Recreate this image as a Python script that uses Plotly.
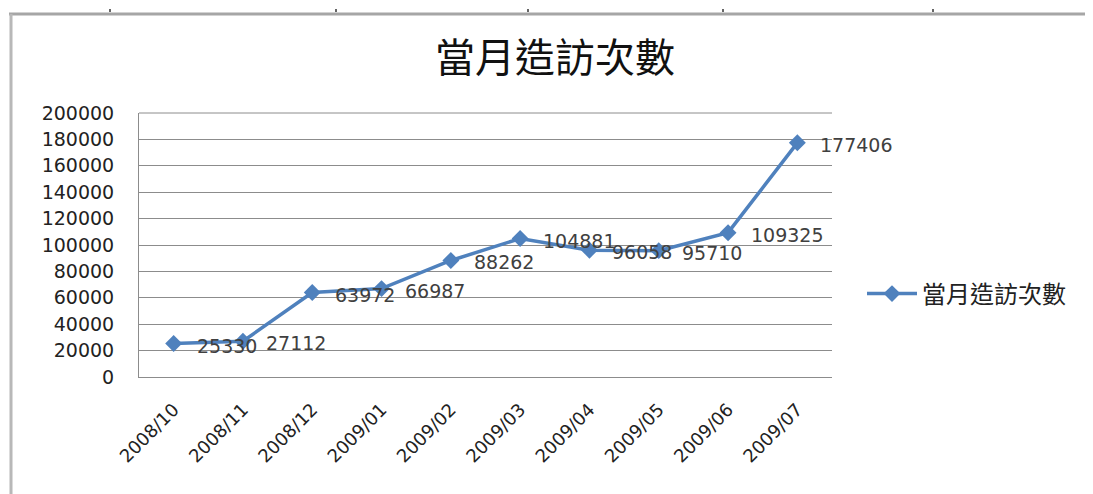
import plotly.graph_objects as go

categories = ["2008/10", "2008/11", "2008/12", "2009/01", "2009/02",
              "2009/03", "2009/04", "2009/05", "2009/06", "2009/07"]
visits = [25330, 27112, 63972, 66987, 88262, 104881, 96058, 95710, 109325, 177406]
series_name = "當月造訪次數"
title_text = "當月造訪次數"

W, H = 1093, 494
OFF = 8  # page body margin
L, R, T, B = 139 - OFF, 832 - OFF, 113 - OFF, 377 - OFF  # plot area in figure pixels


def px_x(px):
    return (px - OFF - L) / (R - L)


def px_y(py):
    return (B - (py - OFF)) / (B - T)


fig = go.Figure()
fig.add_trace(go.Scatter(
    x=categories, y=visits, name=series_name,
    mode="lines+markers",
    line=dict(color="#4F81BD", width=3.5),
    marker=dict(symbol="diamond", size=13, color="#4F81BD"),
    cliponaxis=False,
))

annotations = []
for c, v in zip(categories, visits):
    annotations.append(dict(
        x=c, y=v, xref="x", yref="y", text=str(v), showarrow=False,
        xanchor="left", yanchor="middle", xshift=21, yshift=-2,
        font=dict(family="DejaVu Sans", size=19, color="#404040"),
    ))

shapes = [
    dict(type="line", xref="paper", yref="paper", x0=px_x(9), x1=px_x(1100),
         y0=px_y(14), y1=px_y(14), line=dict(color="#a6a6a6", width=3)),
    dict(type="line", xref="paper", yref="paper", x0=px_x(11), x1=px_x(11),
         y0=px_y(14), y1=px_y(500), line=dict(color="#b8b8b8", width=3)),
    dict(type="line", xref="paper", yref="paper", x0=0, x1=1, y0=1, y1=1,
         line=dict(color="#8c8c8c", width=1)),
]
for tx in [110, 336, 528, 723, 933]:
    shapes.append(dict(type="line", xref="paper", yref="paper",
                       x0=px_x(tx), x1=px_x(tx), y0=px_y(9), y1=px_y(12),
                       line=dict(color="#333333", width=1.5)))

fig.update_layout(
    width=W, height=H,
    margin=dict(l=L, r=W - R, t=T, b=H - B, pad=0),
    paper_bgcolor="white", plot_bgcolor="white",
    title=dict(text=title_text, x=(555 - OFF) / W, xanchor="center",
               y=1 - (58 - OFF) / H, yanchor="middle",
               font=dict(family="Noto Sans CJK TC", size=40, color="#111111")),
    showlegend=True,
    legend=dict(x=px_x(862), xanchor="left", y=px_y(294), yanchor="middle",
                font=dict(family="Noto Sans CJK TC", size=24, color="#222222"),
                itemwidth=50, bgcolor="rgba(0,0,0,0)"),
    shapes=shapes,
    annotations=annotations,
    xaxis=dict(type="category", tickangle=-45, showgrid=False,
               showline=True, linecolor="#8c8c8c", linewidth=1,
               ticks="", ticklabelstandoff=14,
               tickfont=dict(family="DejaVu Sans", size=18, color="#222222"),
               range=[-0.5, len(categories) - 0.5]),
    yaxis=dict(range=[0, 200000], dtick=20000, tickformat="d", showgrid=True,
               gridcolor="#8c8c8c", gridwidth=1,
               showline=True, linecolor="#8c8c8c", linewidth=1,
               ticks="", ticklabelstandoff=20, zeroline=False,
               tickfont=dict(family="DejaVu Sans", size=19, color="#222222")),
)

fig.write_html("out.html")
